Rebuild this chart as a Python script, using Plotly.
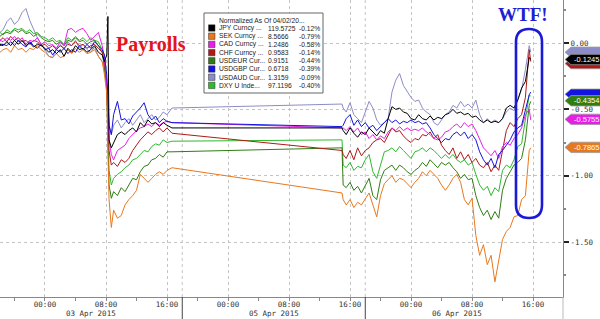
import plotly.graph_objects as go

# hours after 00:00 03 Apr 2015 on a compressed axis (Saturday 04 Apr removed: 05 Apr 00:00 = 24, 06 Apr 00:00 = 48)
hours = [-5.9, -5.5, -5.0, -4.5, -4.0, -3.5, -3.0, -2.5, -2.0, -1.5, -1.0, -0.5, 0.0, 0.5, 1.0, 1.5,
         2.0, 2.5, 3.0, 3.5, 4.0, 4.5, 5.0, 5.5, 6.0, 6.5, 7.0, 7.5, 7.8, 8.1, 8.25, 8.4, 8.7,
         9.0, 9.5, 10.0, 10.5, 11.0, 11.5, 12.0, 12.5, 13.0, 13.5, 14.0, 14.5, 15.0, 15.5, 16.0, 16.65,
         38.95, 39.1, 39.5, 40.0, 40.5, 41.0, 41.5, 42.0, 42.5, 43.0, 43.5, 44.0, 44.5, 45.0, 45.5, 46.0,
         46.5, 47.0, 47.5, 48.0, 48.5, 49.0, 49.5, 50.0, 50.5, 51.0, 51.5, 52.0, 52.5, 53.0, 53.5, 54.0,
         54.5, 55.0, 55.5, 56.0, 56.5, 57.0, 57.5, 58.0, 58.5, 59.0, 59.5, 60.0, 60.5, 61.0, 61.5, 62.0,
         62.5, 63.0, 63.5, 63.7]

jpy = [-0.01, -0.02, 0.01, -0.02, 0.02, -0.01, 0.02, -0.02, 0.00, -0.03, -0.01, -0.02, -0.04, -0.07, -0.05,
       -0.08, -0.05, -0.10, -0.04, -0.07, -0.02, -0.05, -0.04, -0.07, -0.05, -0.02, -0.07, -0.09, -0.14,
       -0.09, 0.20, -0.73, -0.79, -0.75, -0.69, -0.67, -0.69, -0.66, -0.64, -0.67, -0.60, -0.63, -0.58,
       -0.61, -0.60, -0.63, -0.60, -0.62, -0.64] + \
      [-0.64, -0.66, -0.69, -0.64, -0.68, -0.71, -0.67, -0.69, -0.64, -0.67, -0.70, -0.66, -0.68, -0.57,
       -0.48, -0.50, -0.49, -0.52, -0.53, -0.57, -0.58, -0.54, -0.57, -0.58, -0.55, -0.58, -0.56, -0.57,
       -0.54, -0.53, -0.50, -0.53, -0.52, -0.54, -0.53, -0.56, -0.55, -0.58, -0.60, -0.58, -0.60, -0.59,
       -0.60, -0.57, -0.49, -0.47, -0.49, -0.43, -0.34, -0.29, -0.11, -0.12]

sek = [-0.07, -0.05, -0.04, -0.07, -0.02, -0.05, -0.04, -0.07, -0.04, -0.05, -0.02, -0.05, -0.07, -0.10,
       -0.11, -0.08, -0.11, -0.10, -0.05, -0.08, -0.04, -0.07, -0.05, -0.08, -0.07, -0.05, -0.10, -0.14,
       -0.24, -0.38, -0.81, -1.18, -1.39, -1.26, -1.32, -1.30, -1.22, -1.18, -1.15, -1.11, -0.99, -1.02,
       -1.05, -1.02, -0.99, -0.97, -0.99, -0.96, -0.94] + \
      [-1.13, -1.18, -1.22, -1.18, -1.24, -1.20, -1.22, -1.17, -1.13, -1.22, -1.31, -1.15, -1.06, -1.03,
       -1.00, -1.05, -1.02, -1.03, -1.06, -1.09, -1.05, -1.02, -0.97, -1.00, -0.96, -0.99, -1.02, -1.07,
       -1.11, -1.07, -1.02, -0.99, -1.05, -1.18, -1.22, -1.17, -1.45, -1.60, -1.52, -1.67, -1.60, -1.80,
       -1.64, -1.48, -1.42, -1.39, -1.31, -1.30, -1.18, -1.15, -0.81, -0.79]

cad = [0.02, 0.01, 0.04, 0.02, 0.05, 0.01, 0.04, -0.01, 0.02, 0.01, 0.04, -0.01, 0.01, -0.02, -0.01,
       -0.04, 0.01, -0.02, 0.10, 0.11, 0.08, 0.10, 0.11, 0.07, 0.02, 0.05, 0.08, -0.02, -0.11,
       -0.32, -0.50, -0.73, -0.84, -0.88, -0.81, -0.79, -0.77, -0.72, -0.69, -0.66, -0.64, -0.63, -0.61,
       -0.63, -0.60, -0.62, -0.60, -0.59, -0.60] + \
      [-0.64, -0.64, -0.66, -0.63, -0.67, -0.64, -0.69, -0.67, -0.72, -0.69, -0.73, -0.70, -0.72, -0.67,
       -0.64, -0.66, -0.63, -0.66, -0.64, -0.66, -0.65, -0.66, -0.64, -0.67, -0.69, -0.72, -0.73, -0.71,
       -0.67, -0.66, -0.63, -0.61, -0.64, -0.60, -0.63, -0.61, -0.66, -0.73, -0.79, -0.82, -0.85, -0.81,
       -0.87, -0.78, -0.75, -0.77, -0.72, -0.69, -0.64, -0.54, -0.50, -0.58]

chf = [0.02, 0.04, 0.01, 0.05, 0.02, 0.04, 0.01, 0.02, -0.01, 0.02, 0.01, -0.02, -0.01, -0.04, -0.02,
       -0.05, -0.02, -0.04, -0.01, -0.02, 0.01, -0.02, -0.01, -0.04, -0.02, -0.01, -0.04, -0.07, -0.14,
       -0.34, -0.58, -0.81, -0.92, -0.90, -0.93, -0.88, -0.90, -0.87, -0.81, -0.77, -0.73, -0.70, -0.67,
       -0.69, -0.66, -0.64, -0.67, -0.64, -0.68] + \
      [-0.81, -0.84, -0.87, -0.81, -0.88, -0.79, -0.85, -0.81, -0.79, -0.75, -0.73, -0.72, -0.75, -0.69,
       -0.64, -0.67, -0.66, -0.70, -0.73, -0.75, -0.72, -0.73, -0.69, -0.70, -0.67, -0.72, -0.69, -0.77,
       -0.81, -0.84, -0.79, -0.87, -0.82, -0.88, -0.84, -0.90, -0.87, -0.92, -0.94, -0.90, -0.97, -0.92,
       -0.96, -0.81, -0.66, -0.60, -0.63, -0.57, -0.54, -0.41, -0.05, -0.14]

usdeur = [0.05, 0.07, 0.08, 0.07, 0.10, 0.08, 0.10, 0.07, 0.08, 0.05, 0.07, 0.04, 0.02, 0.01, 0.02,
          -0.01, 0.01, -0.02, 0.02, 0.01, 0.04, 0.01, 0.02, -0.01, 0.01, 0.02, -0.02, -0.07, -0.19,
          -0.35, -0.73, -1.07, -1.17, -1.12, -1.15, -1.09, -1.12, -1.07, -1.02, -1.03, -0.97, -0.93, -0.92,
          -0.88, -0.87, -0.84, -0.86, -0.82, -0.82] + \
         [-0.79, -1.07, -1.09, -1.05, -1.11, -1.08, -1.13, -1.07, -1.02, -1.15, -1.18, -1.03, -0.96, -0.94,
          -0.92, -0.96, -0.92, -0.94, -0.97, -0.99, -0.96, -0.94, -0.90, -0.93, -0.88, -0.91, -0.94, -0.90,
          -0.92, -0.90, -0.94, -0.97, -1.02, -0.99, -1.03, -1.02, -1.15, -1.24, -1.30, -1.26, -1.33, -1.27,
          -1.32, -1.11, -1.02, -0.97, -0.92, -0.90, -0.87, -0.73, -0.47, -0.44]

usdgbp = [-0.02, -0.01, -0.02, 0.01, -0.02, 0.02, -0.01, -0.03, 0.01, -0.02, -0.04, -0.01, -0.05, -0.04,
          -0.09, -0.05, -0.07, -0.04, -0.08, -0.05, -0.07, -0.02, -0.05, -0.01, -0.04, 0.01, -0.02, -0.05,
          -0.09, -0.24, -0.39, -0.62, -0.69, -0.54, -0.44, -0.58, -0.57, -0.61, -0.55, -0.52, -0.49, -0.45,
          -0.54, -0.58, -0.55, -0.60, -0.57, -0.59, -0.60] + \
         [-0.63, -0.62, -0.57, -0.54, -0.62, -0.58, -0.63, -0.60, -0.64, -0.62, -0.66, -0.63, -0.60, -0.57,
          -0.60, -0.58, -0.61, -0.59, -0.60, -0.58, -0.60, -0.59, -0.61, -0.60, -0.64, -0.69, -0.72, -0.75,
          -0.72, -0.73, -0.69, -0.67, -0.70, -0.67, -0.72, -0.69, -0.73, -0.82, -0.88, -0.92, -0.87, -0.94,
          -0.84, -0.81, -0.77, -0.73, -0.67, -0.64, -0.62, -0.50, -0.39, -0.37]

usdaud = [0.08, 0.10, 0.16, 0.19, 0.14, 0.17, 0.23, 0.26, 0.17, 0.10, 0.04, -0.01, -0.05, -0.10, -0.11,
          -0.04, -0.01, -0.05, 0.01, -0.02, 0.02, -0.04, -0.01, -0.05, -0.07, -0.03, -0.10, -0.14, -0.20,
          -0.32, -0.50, -0.62, -0.69, -0.62, -0.58, -0.64, -0.60, -0.57, -0.62, -0.58, -0.54, -0.60, -0.57,
          -0.54, -0.58, -0.56, -0.52, -0.54, -0.49] + \
         [-0.46, -0.49, -0.52, -0.45, -0.54, -0.57, -0.60, -0.52, -0.44, -0.49, -0.58, -0.62, -0.60, -0.57,
          -0.37, -0.28, -0.23, -0.32, -0.37, -0.41, -0.44, -0.43, -0.49, -0.52, -0.54, -0.60, -0.62, -0.58,
          -0.54, -0.52, -0.47, -0.49, -0.44, -0.48, -0.46, -0.49, -0.43, -0.54, -0.60, -0.57, -0.60, -0.58,
          -0.60, -0.57, -0.52, -0.49, -0.51, -0.43, -0.35, -0.20, -0.02, -0.07]

dxy = [0.08, 0.06, 0.10, 0.08, 0.11, 0.10, 0.11, 0.08, 0.10, 0.07, 0.08, 0.05, 0.04, 0.02, 0.04,
       0.01, 0.02, -0.01, 0.04, 0.02, 0.05, 0.02, 0.04, 0.01, 0.04, 0.02, 0.01, -0.05, -0.17,
       -0.28, -0.66, -0.96, -1.07, -1.02, -0.99, -0.97, -0.94, -0.92, -0.88, -0.87, -0.84, -0.81, -0.82,
       -0.78, -0.76, -0.77, -0.73, -0.75, -0.74] + \
      [-0.73, -0.92, -0.94, -0.90, -0.96, -0.93, -0.94, -0.88, -0.84, -0.97, -1.02, -0.92, -0.82, -0.81,
       -0.79, -0.82, -0.78, -0.81, -0.84, -0.87, -0.82, -0.81, -0.79, -0.82, -0.79, -0.81, -0.84, -0.87,
       -0.84, -0.87, -0.84, -0.88, -0.90, -0.88, -0.92, -0.90, -0.99, -1.07, -1.11, -1.08, -1.15, -1.09,
       -1.12, -0.96, -0.92, -0.94, -0.88, -0.78, -0.76, -0.58, -0.39, -0.40]

legend_names = ["JPY Curncy ...", "SEK Curncy ...", "CAD Curncy ...", "CHF Curncy ...",
                "USDEUR Cur...", "USDGBP Cur...", "USDAUD Cur...", "DXY U Inde..."]
legend_last = ["119.5725", "8.5666", "1.2486", "0.9583", "0.9151", "0.6718", "1.3159", "97.1196"]
legend_pct = ["-0.12%", "-0.79%", "-0.58%", "-0.14%", "-0.44%", "-0.39%", "-0.09%", "-0.40%"]
series = [jpy, sek, cad, chf, usdeur, usdgbp, usdaud, dxy]
colors = ["#000000", "#e8781e", "#e81ee8", "#b01818", "#2f7d14", "#1414e0", "#8c8cc8", "#2dbb2d"]

# right-edge value tags: (series index, value, show text)
tags = [(6, -0.07, False), (3, -0.155, False), (0, -0.1245, True), (5, -0.3862, False),
        (4, -0.4354, True), (2, -0.5755, True), (1, -0.7865, True)]

x_tickvals = [0, 8, 16, 24, 32, 40, 48, 56, 64]
x_ticktext = ["00:00", "08:00", "16:00"] * 3
panel_edges = [18, 42]
day_centers = [6, 30, 54]
day_labels = ["03 Apr 2015", "05 Apr 2015", "06 Apr 2015"]
y_tickvals = [0.0, -0.5, -1.0, -1.5]
y_ticktext = ["0.00", "-0.50", "-1.00", "-1.50"]

for s in series:
    assert len(s) == len(hours), (len(s), len(hours))

W, H = 600, 319
ML, MR, MT, MB = 0, 37, 0, 22
PW, PH = W - ML - MR, H - MT - MB


def pxx(px):
    return (px - ML) / PW


def pxy(py):
    return 1 - (py - MT) / PH


fig = go.Figure()
draw_order = [6, 7, 4, 3, 2, 1, 5, 0]
for i in draw_order:
    fig.add_trace(go.Scatter(x=hours, y=series[i], mode="lines",
                             line=dict(color=colors[i], width=1), showlegend=False,
                             hoverinfo="skip"))

shapes = []
grid_col = "#c4c4c4"
for xe in panel_edges:
    shapes.append(dict(type="line", xref="x", yref="paper", x0=xe, x1=xe, y0=0, y1=1,
                       line=dict(color=grid_col, width=1, dash="dot"), layer="below"))
    shapes.append(dict(type="line", xref="x", yref="paper", x0=xe, x1=xe, y0=0, y1=pxy(H),
                       line=dict(color="#444", width=1)))
shapes.append(dict(type="line", xref="paper", yref="paper", x0=1, x1=1, y0=0, y1=pxy(H),
                   line=dict(color="#bbb", width=1)))

# value tags on the right
half = 5.2 / 132.7
for idx, v, show in tags:
    tip, body, right = pxx(565), pxx(571), pxx(602)
    path = (f"M {tip},{v} L {body},{v + half} L {right},{v + half} "
            f"L {right},{v - half} L {body},{v - half} Z")
    shapes.append(dict(type="path", xref="paper", yref="y", path=path,
                       fillcolor=colors[idx], line=dict(color="#999", width=0.8), layer="above"))

# legend box
lx0, lx1, ly0, ly1 = 204, 323, 13, 93
shapes.append(dict(type="rect", xref="paper", yref="paper", x0=pxx(lx0), x1=pxx(lx1),
                   y0=pxy(ly1), y1=pxy(ly0), fillcolor="white",
                   line=dict(color="#666", width=1), layer="above"))
row_y = [28, 36.2, 44.4, 52.6, 60.8, 69, 77.2, 85.4]
for i, ry in enumerate(row_y):
    shapes.append(dict(type="rect", xref="paper", yref="paper", x0=pxx(208.5), x1=pxx(215),
                       y0=pxy(ry + 3.2), y1=pxy(ry - 3.2), fillcolor=colors[i],
                       line=dict(color="#333", width=0.5), layer="above"))

# WTF oval (stadium)
ox0, ox1, oy0, oy1, r = 516, 542, 29, 218, 13
pts = lambda a, b: f"{pxx(a)},{pxy(b)}"
oval = (f"M {pts(ox0, oy0 + r)} L {pts(ox0, oy1 - r)} Q {pts(ox0, oy1)} {pts(ox0 + r, oy1)} "
        f"Q {pts(ox1, oy1)} {pts(ox1, oy1 - r)} L {pts(ox1, oy0 + r)} "
        f"Q {pts(ox1, oy0)} {pts(ox1 - r, oy0)} Q {pts(ox0, oy0)} {pts(ox0, oy0 + r)} Z")
shapes.append(dict(type="path", xref="paper", yref="paper", path=oval,
                   line=dict(color="#1a1ad6", width=2.6), layer="above"))

annotations = []
axis_font = dict(family="DejaVu Sans Mono", size=7.5, color="#333")
for xc, lab in zip(day_centers, day_labels):
    annotations.append(dict(x=xc, y=pxy(313.5), xref="x", yref="paper", text=lab, showarrow=False,
                            font=axis_font, xanchor="center", yanchor="middle"))

leg_font = dict(family="Liberation Sans", size=6.7, color="#222")
annotations.append(dict(x=pxx(217), y=pxy(20), xref="paper", yref="paper",
                        text="Normalized As Of 04/02/20...", showarrow=False, font=leg_font,
                        xanchor="left", yanchor="middle"))
for i, ry in enumerate(row_y):
    for xpos, txt in ((216.5, legend_names[i]), (265.5, legend_last[i]), (297, legend_pct[i])):
        annotations.append(dict(x=pxx(xpos), y=pxy(ry), xref="paper", yref="paper", text=txt,
                                showarrow=False, font=leg_font, xanchor="left", yanchor="middle"))

for idx, v, show in tags:
    if show:
        annotations.append(dict(x=pxx(572), y=v, xref="paper", yref="y", text=f"{v:.4f}",
                                showarrow=False, xanchor="left", yanchor="middle",
                                font=dict(family="Liberation Sans", size=7.5, color="white")))

annotations.append(dict(x=pxx(151), y=pxy(44), xref="paper", yref="paper", text="<b>Payrolls</b>",
                        showarrow=False, xanchor="center", yanchor="middle",
                        font=dict(family="Liberation Serif", size=20, color="#e3141c")))
annotations.append(dict(x=pxx(523), y=pxy(15), xref="paper", yref="paper", text="<b>WTF!</b>",
                        showarrow=False, xanchor="center", yanchor="middle",
                        font=dict(family="Liberation Serif", size=19, color="#1e1ed2")))

fig.update_layout(
    width=W, height=H, margin=dict(l=ML, r=MR, t=MT, b=MB),
    paper_bgcolor="white", plot_bgcolor="white", showlegend=False,
    shapes=shapes, annotations=annotations,
    xaxis=dict(range=[-5.9, 67.93], tickmode="array", tickvals=x_tickvals, ticktext=x_ticktext,
               showgrid=True, gridcolor=grid_col, griddash="dot", gridwidth=1,
               showline=True, linecolor="#888", linewidth=1, ticks="", zeroline=False,
               tickfont=axis_font,
               minor=dict(tick0=0, dtick=4, ticks="outside", ticklen=3, tickcolor="#888",
                          showgrid=False)),
    yaxis=dict(side="right", range=[-1.914, 0.324], tickmode="array", tickvals=y_tickvals,
               ticktext=y_ticktext, showgrid=True, gridcolor=grid_col, griddash="dot",
               gridwidth=1, showline=True, linecolor="#888", linewidth=1, zeroline=False,
               ticks="outside", ticklen=5, tickwidth=2, tickcolor="#222", tickfont=axis_font,
               minor=dict(tick0=0, dtick=0.25, ticks="outside", ticklen=2, tickcolor="#888",
                          showgrid=False)),
)

fig.write_html("out.html")
